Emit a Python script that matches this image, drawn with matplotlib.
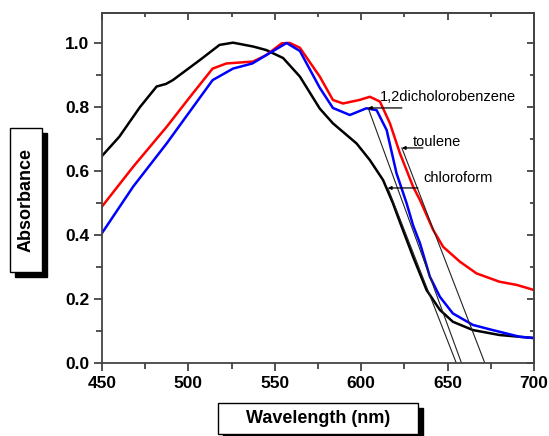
import numpy as np
import matplotlib.pyplot as plt
from matplotlib.patches import Rectangle
from matplotlib.ticker import MultipleLocator

# chloroform (black)
chloroform_nm = [450, 460, 472, 481.6, 487, 491, 506.7, 518, 525.8, 537.4, 545, 554.8, 564.5,
                 576, 583.6, 597.3, 605, 612.6, 618.3, 622.4, 630, 637.8, 645.5, 653, 664.6, 680, 700]
chloroform_abs = [0.647, 0.707, 0.80, 0.864, 0.872, 0.884, 0.947, 0.994, 1.001, 0.989, 0.978, 0.953, 0.895,
                  0.795, 0.749, 0.686, 0.634, 0.572, 0.50, 0.44, 0.332, 0.228, 0.166, 0.129, 0.103, 0.0875, 0.078]

# 1,2-dichlorobenzene (red)
dcb_nm = [450, 468, 487.4, 501, 514, 522, 537.4, 545, 554, 558.7, 564.5, 576, 583.6, 589.4, 599,
          605, 610.8, 616.6, 622.4, 630, 634, 641.6, 647.4, 657, 666.7, 680, 690, 700]
dcb_abs = [0.489, 0.613, 0.738, 0.832, 0.92, 0.936, 0.942, 0.962, 0.999, 1.0, 0.985, 0.895, 0.822, 0.811, 0.822,
           0.832, 0.817, 0.749, 0.655, 0.551, 0.509, 0.416, 0.363, 0.317, 0.28, 0.254, 0.244, 0.228]

# toluene (blue)
toluene_nm = [450, 468, 487.4, 502.7, 514, 525.8, 537, 545, 556.8, 564.5, 576, 583.6, 593.4, 603,
              608.9, 614.7, 620.4, 626.2, 630, 634, 639.7, 645.5, 653, 664.6, 676, 691.7, 700]
toluene_abs = [0.406, 0.551, 0.686, 0.80, 0.884, 0.92, 0.936, 0.962, 1.0, 0.975, 0.86, 0.797, 0.775, 0.796,
               0.79, 0.728, 0.593, 0.50, 0.43, 0.374, 0.27, 0.207, 0.155, 0.119, 0.103, 0.082, 0.078]

# band-edge tangents: start point on curve -> onset on x axis
tangent_start_nm = [604, 623.5, 615.4]
tangent_start_abs = [0.797, 0.672, 0.547]
onset_nm = [658, 671.5, 655]

labels = ['1,2dicholorobenzene', 'toulene', 'chloroform']
label_tip_nm = [603.9, 623.5, 615.4]
label_tail_nm = [623.5, 635.7, 632.8]
label_abs = [0.797, 0.672, 0.547]
label_text_nm = [610.8, 629.9, 635.7]
label_text_abs = [0.83, 0.69, 0.578]

plt.rcParams['font.family'] = ['Liberation Sans', 'DejaVu Sans']

fig = plt.figure(figsize=(5.49, 4.36), dpi=100)
ax = fig.add_axes([0.1858, 0.1674, 0.787, 0.803])

ax.plot(chloroform_nm, chloroform_abs, color='black', lw=1.8)
ax.plot(dcb_nm, dcb_abs, color='#ff0000', lw=1.8)
ax.plot(toluene_nm, toluene_abs, color='#0000ff', lw=1.8)

for x0, y0, x1 in zip(tangent_start_nm, tangent_start_abs, onset_nm):
    ax.plot([x0, x1], [y0, 0], color='#222222', lw=0.8)

for txt, tip, tail, y, tx, ty in zip(labels, label_tip_nm, label_tail_nm, label_abs,
                                     label_text_nm, label_text_abs):
    ax.annotate('', xy=(tip, y), xytext=(tail, y),
                arrowprops=dict(arrowstyle='-|>', color='black', lw=0.9, mutation_scale=5,
                                shrinkA=0, shrinkB=0))
    ax.text(tx, ty, txt, fontsize=10.5, ha='left', va='center')

ax.set_xlim(450, 700)
ax.set_ylim(0, 1.094)
ax.xaxis.set_major_locator(MultipleLocator(50))
ax.xaxis.set_minor_locator(MultipleLocator(25))
ax.yaxis.set_major_locator(MultipleLocator(0.2))
ax.yaxis.set_minor_locator(MultipleLocator(0.1))
ax.set_yticks([0, 0.2, 0.4, 0.6, 0.8, 1.0])
ax.set_yticklabels(['0.0', '0.2', '0.4', '0.6', '0.8', '1.0'])
ax.tick_params(which='both', direction='out', width=1.2, color='#333333',
               labelsize=12.5, pad=3)
ax.tick_params(which='major', length=6)
ax.tick_params(which='minor', length=4)
for lab in ax.get_xticklabels() + ax.get_yticklabels():
    lab.set_fontweight('bold')

sec_x = ax.secondary_xaxis('top')
sec_x.xaxis.set_major_locator(MultipleLocator(50))
sec_x.xaxis.set_minor_locator(MultipleLocator(25))
sec_x.tick_params(which='both', direction='in', labeltop=False, width=1.2, color='#333333')
sec_x.tick_params(which='major', length=5)
sec_x.tick_params(which='minor', length=3)
sec_y = ax.secondary_yaxis('right')
sec_y.yaxis.set_major_locator(MultipleLocator(0.2))
sec_y.yaxis.set_minor_locator(MultipleLocator(0.1))
sec_y.tick_params(which='both', direction='in', labelright=False, width=1.2, color='#333333')
sec_y.tick_params(which='major', length=5)
sec_y.tick_params(which='minor', length=3)
for sp in list(ax.spines.values()) + [sec_x.spines['top'], sec_y.spines['right']]:
    sp.set_linewidth(1.3)
    sp.set_color('#444444')

# boxed axis labels with shadow, in figure pixels
W, H = 549, 436


def boxed_label(x0, y0, x1, y1, text, rot, dx, dy):
    fig.patches.append(Rectangle((x0 + dx, H - y1 - dy), x1 - x0, y1 - y0, transform=None,
                                 facecolor='black', edgecolor='black', figure=fig))
    fig.patches.append(Rectangle((x0, H - y1), x1 - x0, y1 - y0, transform=None,
                                 facecolor='white', edgecolor='black', lw=1.0, figure=fig))
    fig.text((x0 + x1) / 2 / W, 1 - (y0 + y1) / 2 / H, text, rotation=rot,
             ha='center', va='center', fontsize=13, fontweight='bold')


boxed_label(10, 128, 42, 272, 'Absorbance', 90, 5, 5)
boxed_label(218, 403, 418, 434, 'Wavelength (nm)', 0, 5, 5)

fig.savefig('out.png', dpi=100)
